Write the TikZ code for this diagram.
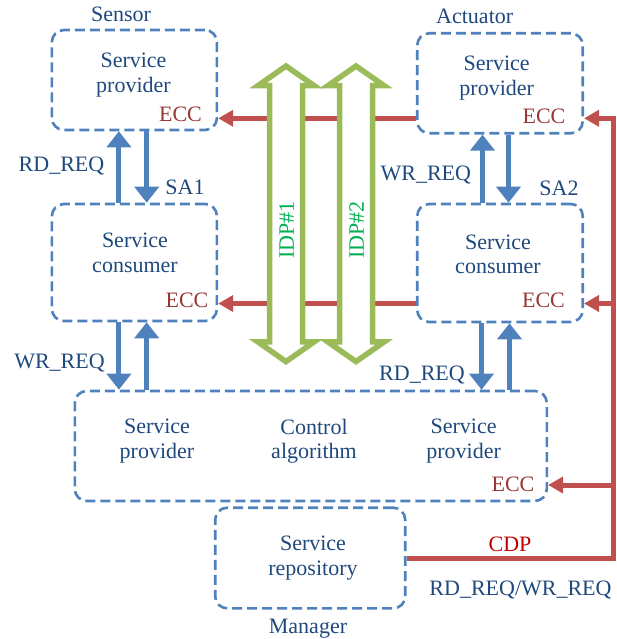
\documentclass[tikz,border=0pt]{standalone}
\usepackage{fontspec}
\setmainfont{Liberation Serif}
\usepackage{xcolor}
\usepackage{tikz}
\usetikzlibrary{arrows.meta, positioning, shapes, shapes.arrows}
\definecolor{boxblue}{RGB}{79, 129, 189}
\definecolor{txtblue}{RGB}{31, 73, 125}
\definecolor{eccred}{RGB}{149, 55, 53}
\definecolor{busred}{RGB}{192, 80, 77}
\definecolor{cdpred}{RGB}{192, 0, 0}
\definecolor{idpgreen}{RGB}{155, 187, 89}
\definecolor{idptext}{RGB}{0, 176, 80}

\begin{document}
\begin{tikzpicture}[x=1pt, y=-1pt, font=\fontsize{22}{24.5}\selectfont, text=txtblue]
\tikzstyle{unit} = [rectangle, rounded corners=12pt, draw=boxblue, line width=2.6pt, dash pattern=on 10pt off 5pt, inner sep=0pt]
\tikzstyle{txt} = [align=center, inner sep=0pt]
\tikzstyle{ecc} = [text=eccred, inner sep=0pt]
\tikzstyle{lbl} = [inner sep=0pt, anchor=base]
\tikzstyle{barrow} = [draw=boxblue, line width=5pt, -{Triangle[length=16pt, width=24pt]}]
\tikzstyle{rarrow} = [draw=busred, line width=5pt, -{Triangle[length=15pt, width=16pt]}]
\tikzstyle{idp} = [double arrow, draw=idpgreen, fill=white, line width=5.5pt, rotate=90, minimum height=295.6pt, minimum width=50.6pt, inner xsep=0pt, inner ysep=13.75pt, double arrow head extend=11.5pt, double arrow tip angle=110]
\tikzstyle{idplbl} = [rotate=90, text=idptext, inner sep=0pt]

\useasboundingbox (0,0) rectangle (616,639);

% boxes
\node (sprov) [unit, minimum width=165pt, minimum height=100pt] at (134.4,80) {};
\node (scons) [unit, minimum width=165pt, minimum height=117pt] at (134.4,262.5) {};
\node (aprov) [unit, minimum width=165.5pt, minimum height=100pt] at (500,83.3) {};
\node (acons) [unit, minimum width=165.5pt, minimum height=118pt] at (500,263) {};
\node (ctrl) [unit, minimum width=472pt, minimum height=110pt] at (310.8,446) {};
\node (repo) [unit, minimum width=190pt, minimum height=100.6pt] at (310.2,558) {};

\node (sprovtxt) [txt] at (133.5,74.9) {Service\\provider};
\node (sconstxt) [txt] at (135,252.7) {Service\\consumer};
\node (aprovtxt) [txt] at (496.7,77.9) {Service\\provider};
\node (aconstxt) [txt] at (498,254.5) {Service\\consumer};
\node (ctrlsp1) [txt] at (157,441) {Service\\provider};
\node (ctrlalg) [txt] at (314,441) {Control\\algorithm};
\node (ctrlsp2) [txt] at (463.6,441) {Service\\provider};
\node (repotxt) [txt] at (313,558.2) {Service\\repository};

\node (sprovecc) [ecc] at (180.5,114) {ECC};
\node (sconsecc) [ecc] at (187,300.8) {ECC};
\node (aprovecc) [ecc] at (544,116.7) {ECC};
\node (aconsecc) [ecc] at (543.5,300.8) {ECC};
\node (ctrlecc) [ecc] at (513,484.7) {ECC};

% labels
\node (sensor) [lbl] at (121,21.7) {Sensor};
\node (actuator) [lbl] at (474.7,24) {Actuator};
\node (rdreq1) [lbl] at (61.5,171.7) {RD\_REQ};
\node (sa1) [lbl] at (185,194) {SA1};
\node (wrreq1) [lbl] at (425.8,180) {WR\_REQ};
\node (sa2) [lbl] at (559,195) {SA2};
\node (wrreq2) [lbl] at (59.5,368) {WR\_REQ};
\node (rdreq2) [lbl] at (422,380) {RD\_REQ};
\node (cdp) [lbl, text=cdpred] at (510,551.7) {CDP};
\node (rdwr) [lbl] at (520.5,595) {RD\_REQ/WR\_REQ};
\node (manager) [lbl] at (308,633) {Manager};

% service access
\draw [barrow] ([xshift=-15.5pt]scons.north) -- ([xshift=-15.5pt]sprov.south);
\draw [barrow] ([xshift=12.3pt]sprov.south) -- ([xshift=12.3pt]scons.north);
\draw [barrow] ([xshift=-15.5pt]scons.south) -- ([xshift=-15.5pt]scons.south |- ctrl.north);
\draw [barrow] ([xshift=12.3pt]scons.south |- ctrl.north) -- ([xshift=12.3pt]scons.south);
\draw [barrow] ([xshift=-17.5pt]acons.north) -- ([xshift=-17.5pt]aprov.south);
\draw [barrow] ([xshift=8.5pt]aprov.south) -- ([xshift=8.5pt]acons.north);
\draw [barrow] ([xshift=-18.5pt]acons.south) -- ([xshift=-18.5pt]acons.south |- ctrl.north);
\draw [barrow] ([xshift=9.5pt]acons.south |- ctrl.north) -- ([xshift=9.5pt]acons.south);

% ECC / CDP
\coordinate (bus) at (613,118.3);
\draw [rarrow] ([yshift=-35pt]aprov.west) -- ([yshift=-35pt]aprov.west -| sprov.east);
\draw [rarrow] ([yshift=-40.5pt]acons.west) -- ([yshift=-40.5pt]acons.west -| scons.east);
\draw [rarrow] (repo.east) -| (bus) -- (bus -| aprov.east);
\draw [rarrow] ([yshift=-40.5pt]acons.east -| bus) -- ([yshift=-40.5pt]acons.east);
\draw [rarrow] ([yshift=-39pt]ctrl.east -| bus) -- ([yshift=-39pt]ctrl.east);

% IDP
\node (idp1) [idp] at (286,213.8) {};
\node (idp2) [idp] at (356,213.8) {};
\node (idp1txt) [idplbl] at (286.7,230) {IDP\#1};
\node (idp2txt) [idplbl] at (356.7,230) {IDP\#2};
\end{tikzpicture}
\end{document}
